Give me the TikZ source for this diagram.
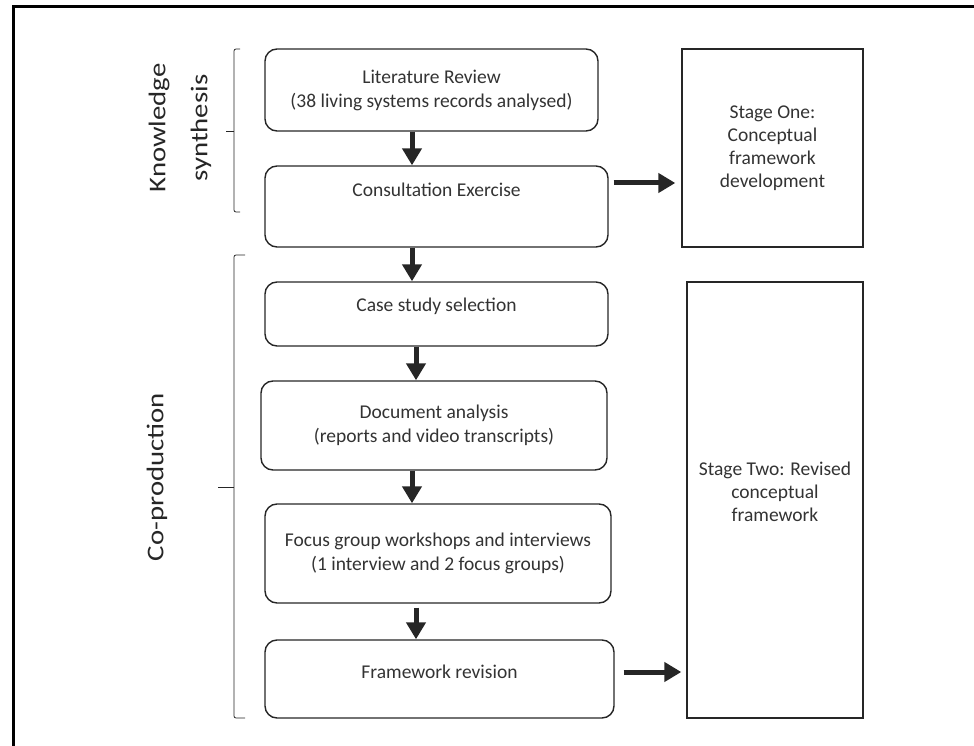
\documentclass[tikz,border=0pt]{standalone}
\usepackage{fontspec}
\setmainfont{Carlito}
\usetikzlibrary{arrows.meta}
\definecolor{ink}{HTML}{262626}
\definecolor{txt}{HTML}{333333}

\begin{document}
\begin{tikzpicture}[x=1pt, y=-1pt,
  box/.style={draw=ink, line width=1.4pt, rounded corners=12pt, align=center, text=txt,
    font=\fontsize{19.5}{24}\selectfont, inner sep=0pt},
  stage/.style={draw=ink, line width=1.4pt, align=center, text=txt,
    font=\fontsize{19.5}{23}\selectfont, inner sep=0pt},
  flow/.style={draw=ink, line width=5pt, -{Triangle[length=17pt,width=19pt]}},
  side/.style={text=ink, font=\fontsize{24}{42}\selectfont, rotate=90, xscale=1.2, align=center},
  brace/.style={draw=ink, line width=0.8pt, rounded corners=2pt}]
  \useasboundingbox (0,0) rectangle (974,746);
  \draw[line width=3pt] (13,746) -- (13,6.5) -- (974,6.5);

  % left column
  \node[box, minimum width=333pt, minimum height=82pt] (lit) at (431.5,90)
    {Literature Review\\(38 living systems records analysed)};
  \node[box, minimum width=343pt, minimum height=81pt, text depth=34pt] (cons) at (436.5,206.5)
    {Consultation Exercise};
  \node[box, minimum width=343pt, minimum height=64pt, text depth=18pt] (case) at (436.5,314)
    {Case study selection};
  \node[box, minimum width=346pt, minimum height=89pt] (doc) at (434,425.5)
    {Document analysis\\(reports and video transcripts)};
  \node[box, minimum width=346pt, minimum height=99pt] (focus) at (438,553.5)
    {Focus group workshops and interviews\\(1 interview and 2 focus groups)};
  \node[box, minimum width=349pt, minimum height=78pt, text depth=14pt] (frev) at (439.5,679)
    {Framework revision};

  % stages
  \node[stage, minimum width=181pt, minimum height=198pt] (one) at (772.5,148)
    {Stage One:\\Conceptual\\framework\\development};
  \node[stage, minimum width=176pt, minimum height=436pt, text depth=16pt] (two) at (775,500)
    {Stage Two: Revised\\conceptual\\framework};

  % arrows
  \draw[flow] (lit.south -| 412,0) -- (cons.north -| 412,0);
  \draw[flow] (cons.south -| 412,0) -- (case.north -| 412,0);
  \draw[flow] (case.south -| 416,0) -- (doc.north -| 416,0);
  \draw[flow] (doc.south -| 412,0) -- (focus.north -| 412,0);
  \draw[flow, shorten <=4pt] (focus.south -| 416,0) -- (frev.north -| 416,0);
  \draw[flow, shorten <=5pt, shorten >=6pt] (cons.east |- 0,183) -- (one.west |- 0,183);
  \draw[flow, shorten <=9pt, shorten >=5pt] (frev.east |- 0,672) -- (two.west |- 0,672);

  % braces and phase labels
  \draw[brace] (240,49) -- (234,49) -- (234,212) -- (240,212);
  \draw[brace] (234,131) -- (226,131);
  \draw[brace] (245,255) -- (234,255) -- (234,718) -- (245,718);
  \draw[brace] (234,487) -- (218,487);
  \node[side] (ks) at (180,128) {Knowledge\\synthesis};
  \node[side] (cp) at (157,477) {Co-production};
\end{tikzpicture}
\end{document}
